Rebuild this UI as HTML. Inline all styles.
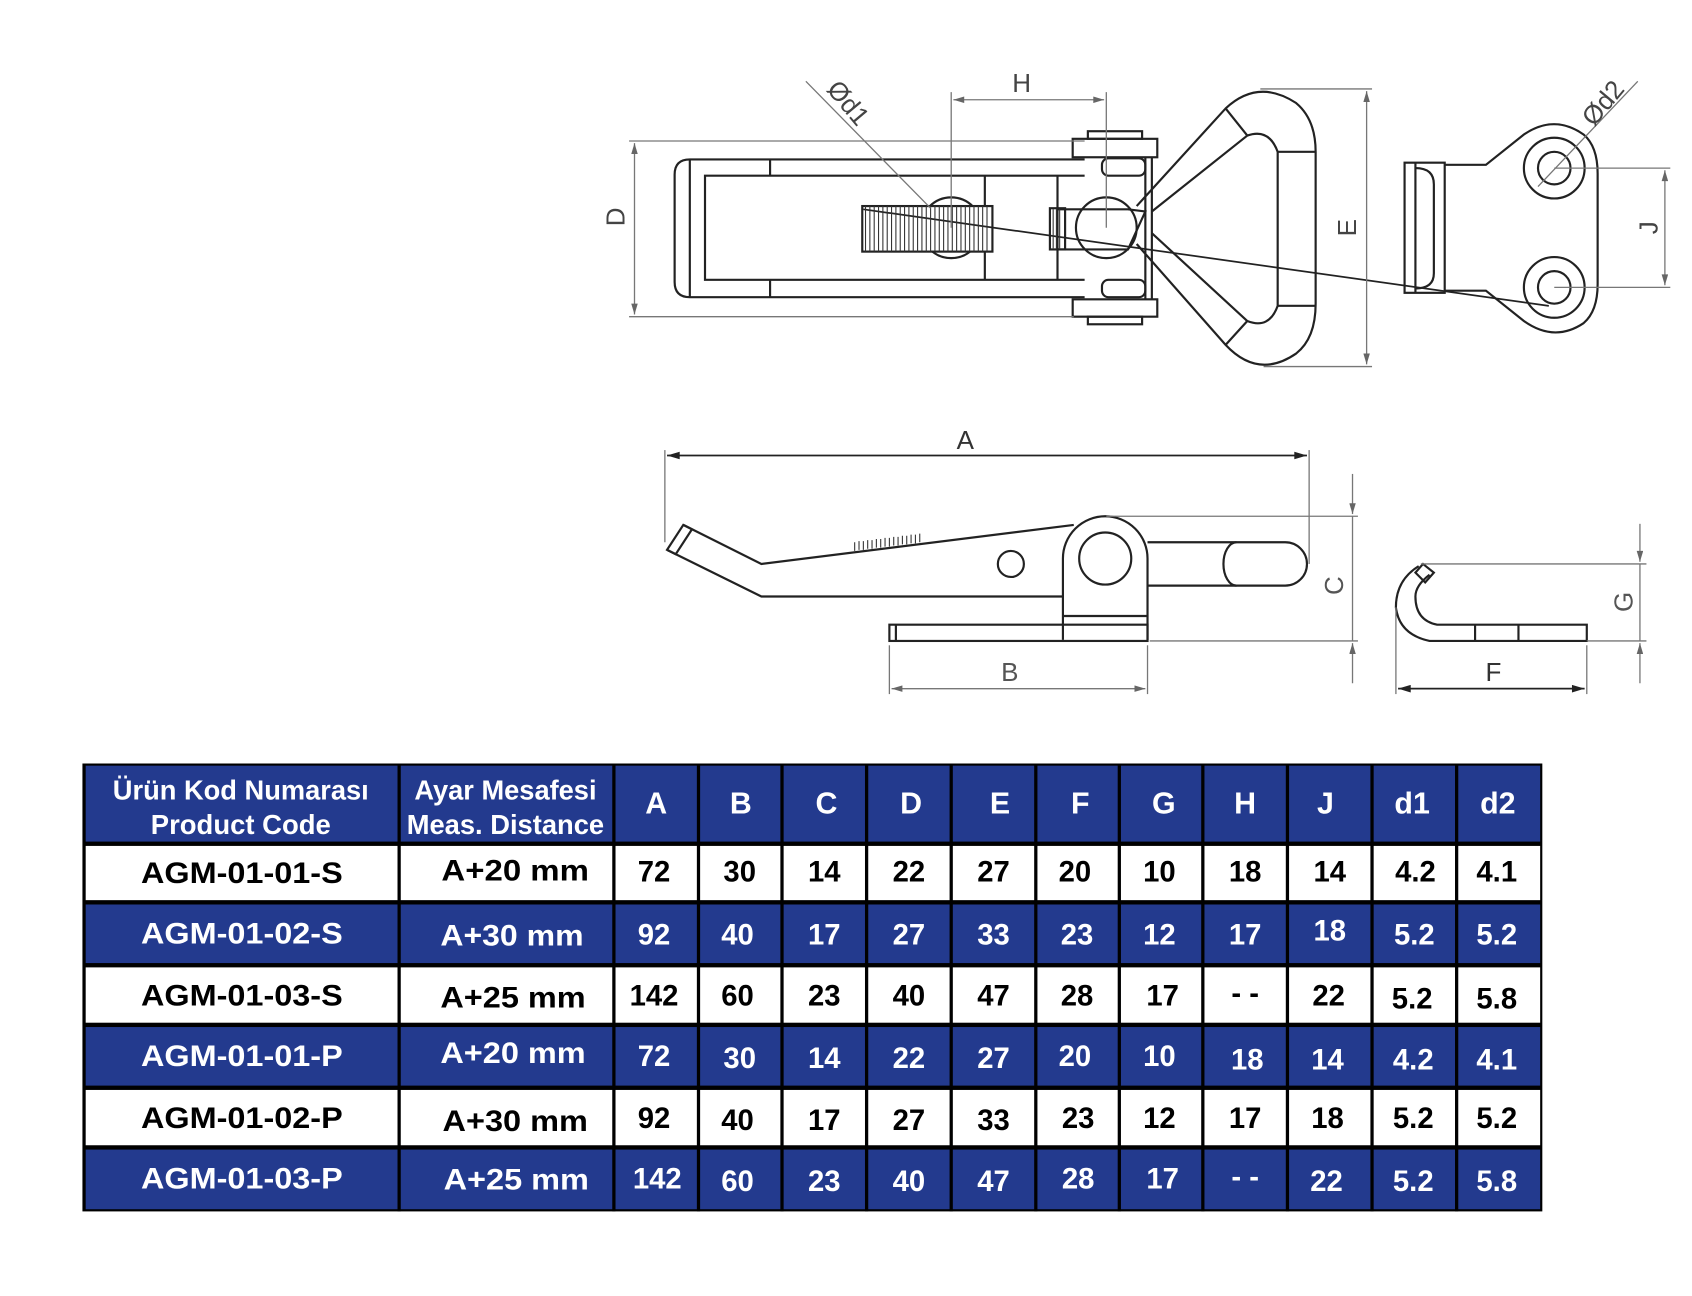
<!DOCTYPE html>
<html><head><meta charset="utf-8"><style>
html,body{margin:0;padding:0;background:#fff;width:1692px;height:1296px;overflow:hidden}
svg{display:block}
text{font-family:"Liberation Sans",sans-serif}
</style></head><body>
<svg width="1692" height="1296" viewBox="0 0 1560 1195" preserveAspectRatio="none" xmlns="http://www.w3.org/2000/svg">
<defs>
<marker id="ar" viewBox="0 0 10 6" refX="10" refY="3" markerWidth="14" markerHeight="6" markerUnits="userSpaceOnUse" orient="auto-start-reverse"><path d="M0,0 L10,3 L0,6 z" fill="#666"/></marker>
<marker id="ab" viewBox="0 0 10 6" refX="10" refY="3" markerWidth="18" markerHeight="7" markerUnits="userSpaceOnUse" orient="auto-start-reverse"><path d="M0,0 L10,3 L0,6 z" fill="#222"/></marker>
</defs>
<rect width="1560" height="1195" fill="#fff"/>

<!-- ===== TOP VIEW ===== -->
<g fill="none" stroke="#222" stroke-width="2">
  <path d="M1000,147 H636 Q622,147 622,161 V260 Q622,274 636,274 H1000"/>
  <path d="M1000,162 H650 V258 H1000"/>
  <line x1="636" y1="147" x2="636" y2="274"/>
  <line x1="710" y1="147" x2="710" y2="162"/><line x1="710" y1="258" x2="710" y2="274"/>
  <line x1="908" y1="162" x2="908" y2="258"/><line x1="975" y1="162" x2="975" y2="258"/>
  <rect x="989" y="128" width="78" height="17"/><rect x="1003" y="121" width="50" height="7"/>
  <rect x="989" y="276" width="78" height="16"/><rect x="1003" y="292" width="50" height="7"/>
  <rect x="1016" y="146" width="40" height="16" rx="6"/><rect x="1016" y="258" width="40" height="16" rx="6"/>
  <line x1="1056" y1="145" x2="1056" y2="276"/><line x1="1062" y1="145" x2="1062" y2="276"/>
  <circle cx="877" cy="210" r="28"/>
  <circle cx="1020" cy="210" r="28"/>
  <rect x="795" y="190" width="120" height="42" fill="#fff"/>
  <path d="M975,193 H1040 L1056,195 L1040,230 H975"/>
  <rect x="968" y="192" width="14" height="38"/>
  <!-- bail -->
  <path d="M1048,190 L1130,100 Q1160,72 1195,95 Q1213,110 1213,140 V280 Q1213,312 1195,326 Q1160,350 1130,318 L1048,225"/>
  <path d="M1062,195 L1150,125 Q1170,118 1178,140 V282 Q1170,304 1150,296 L1062,215"/>
  <line x1="1130" y1="100" x2="1150" y2="125"/><line x1="1130" y1="318" x2="1150" y2="296"/>
  <line x1="1178" y1="140" x2="1213" y2="140"/><line x1="1178" y1="282" x2="1213" y2="282"/>
  <!-- plate -->
  <rect x="1295" y="150" width="37" height="120"/>
  <path d="M1305,155 Q1322,155 1322,170 V252 Q1322,266 1305,266"/>
  <line x1="1305" y1="150" x2="1305" y2="270"/>
  <path d="M1332,152 H1370 L1405,124 Q1433,105 1460,124 Q1473,135 1473,160 V262 Q1473,287 1460,298 Q1433,316 1405,296 L1370,268 H1332"/>
  <circle cx="1433" cy="155" r="28"/><circle cx="1433" cy="155" r="15"/>
  <circle cx="1433" cy="265" r="28"/><circle cx="1433" cy="265" r="15"/>
  <line x1="796" y1="193" x2="1428" y2="282" stroke-width="1.6"/>
</g>
<g stroke="#333" stroke-width="1">
  <path d="M798,190 v42 M802,190 v42 M806,190 v42 M810,190 v42 M814,190 v42 M818,190 v42 M822,190 v42 M826,190 v42 M830,190 v42 M834,190 v42 M838,190 v42 M842,190 v42 M846,190 v42 M850,190 v42 M854,190 v42 M858,190 v42 M862,190 v42 M866,190 v42 M870,190 v42 M874,190 v42 M878,190 v42 M882,190 v42 M886,190 v42 M890,190 v42 M894,190 v42 M898,190 v42 M902,190 v42 M906,190 v42 M910,190 v42 M971,193 v36 M974,193 v36 M977,193 v36"/>
</g>
<!-- top dims -->
<g stroke="#777" stroke-width="1.2" fill="none">
  <line x1="580" y1="130" x2="1000" y2="130"/><line x1="580" y1="292" x2="990" y2="292"/>
  <line x1="585" y1="132" x2="585" y2="290" marker-start="url(#ar)" marker-end="url(#ar)"/>
  <line x1="877" y1="85" x2="877" y2="210"/><line x1="1020" y1="85" x2="1020" y2="210"/>
  <line x1="879" y1="92" x2="1018" y2="92" marker-start="url(#ar)" marker-end="url(#ar)"/>
  <line x1="743" y1="75" x2="858" y2="192"/>
  <line x1="1162" y1="82" x2="1265" y2="82"/><line x1="1165" y1="338" x2="1265" y2="338"/>
  <line x1="1260" y1="84" x2="1260" y2="336" marker-start="url(#ar)" marker-end="url(#ar)"/>
  <line x1="1433" y1="155" x2="1540" y2="155"/><line x1="1433" y1="265" x2="1540" y2="265"/>
  <line x1="1535" y1="157" x2="1535" y2="263" marker-start="url(#ar)" marker-end="url(#ar)"/>
  <line x1="1510" y1="75" x2="1418" y2="172"/>
</g>
<g fill="#444" font-size="24">
  <text x="942" y="85" text-anchor="middle">H</text>
  <text transform="translate(568,200) rotate(-90)" text-anchor="middle" dy="8">D</text>
  <text transform="translate(1242,210) rotate(-90)" text-anchor="middle" dy="8">E</text>
  <text transform="translate(1520,210) rotate(-90)" text-anchor="middle" dy="8">J</text>
  <text transform="translate(782,95) rotate(50)" text-anchor="middle" dy="8">Ød1</text>
  <text transform="translate(1478,95) rotate(-50)" text-anchor="middle" dy="8">Ød2</text>
</g>

<!-- ===== SIDE VIEW ===== -->
<g fill="none" stroke="#222" stroke-width="2">
  <path d="M630,484 L702,520 L990,484"/>
  <path d="M615,507 L702,550 H980"/>
  <path d="M615,507 L630,484 L638,488 L623,511 z"/>
  <path d="M980,590 V515 A39,39 0 0 1 1058,515 V590"/>
  <circle cx="1019" cy="515" r="24"/>
  <circle cx="932" cy="520" r="12"/>
  <path d="M1058,500 H1185 A20,20 0 0 1 1185,540 H1058"/>
  <path d="M1140,500 A12,20 0 0 0 1140,540"/>
  <rect x="820" y="576" width="238" height="15"/><line x1="826" y1="576" x2="826" y2="591"/>
  <line x1="980" y1="568" x2="1058" y2="568"/>
  <!-- catch -->
  <path d="M1308,522 Q1287,535 1287,560 Q1290,585 1318,591 H1463 V576 H1325 Q1305,572 1305,550 Q1305,540 1318,530"/>
  <path d="M1305,528 L1312,520 L1322,528 L1314,537 z"/>
  <line x1="1360" y1="576" x2="1360" y2="591"/><line x1="1400" y1="576" x2="1400" y2="591"/>
</g>
<g stroke="#333" stroke-width="1"><path d="M788,500 v8 M792,499 v8 M796,499 v8 M800,498 v8 M804,498 v8 M808,497 v8 M812,497 v8 M816,496 v8 M820,496 v8 M824,495 v8 M828,495 v8 M832,494 v8 M836,494 v8 M840,493 v8 M844,493 v8 M848,492 v8"/></g>
<g stroke="#777" stroke-width="1.2" fill="none">
  <line x1="613" y1="415" x2="613" y2="500"/><line x1="1207" y1="415" x2="1207" y2="520"/>
  <line x1="820" y1="595" x2="820" y2="640"/><line x1="1058" y1="595" x2="1058" y2="640"/>
  <line x1="822" y1="635" x2="1056" y2="635" marker-start="url(#ar)" marker-end="url(#ar)"/>
  <line x1="1020" y1="476" x2="1252" y2="476"/><line x1="1060" y1="591" x2="1252" y2="591"/>
  <line x1="1247" y1="437" x2="1247" y2="474" marker-end="url(#ar)"/>
  <line x1="1247" y1="476" x2="1247" y2="591"/>
  <line x1="1247" y1="630" x2="1247" y2="593" marker-end="url(#ar)"/>
  <line x1="1287" y1="560" x2="1287" y2="640"/><line x1="1463" y1="595" x2="1463" y2="640"/>
  <line x1="1310" y1="520" x2="1518" y2="520"/><line x1="1463" y1="591" x2="1518" y2="591"/>
  <line x1="1512" y1="483" x2="1512" y2="518" marker-end="url(#ar)"/>
  <line x1="1512" y1="520" x2="1512" y2="591"/>
  <line x1="1512" y1="630" x2="1512" y2="593" marker-end="url(#ar)"/>
</g>
<g stroke="#222" stroke-width="1.6">
  <line x1="615" y1="420" x2="1205" y2="420" marker-start="url(#ab)" marker-end="url(#ab)"/>
  <line x1="1289" y1="635" x2="1461" y2="635" marker-start="url(#ab)" marker-end="url(#ab)"/>
</g>
<g fill="#333" font-size="24">
  <text x="890" y="414" text-anchor="middle">A</text>
  <text x="931" y="628" text-anchor="middle" fill="#555">B</text>
  <text x="1377" y="628" text-anchor="middle">F</text>
  <text transform="translate(1230,540) rotate(-90)" text-anchor="middle" dy="8" fill="#555">C</text>
  <text transform="translate(1497,555) rotate(-90)" text-anchor="middle" dy="8" fill="#555">G</text>
</g>

<!-- ===== TABLE ===== -->
<g>
  <rect x="76" y="704" width="1346" height="413" fill="#000"/>
  <rect x="79" y="706" width="1341" height="70" fill="#233a8e"/>
  <rect x="79" y="780" width="1341" height="50" fill="#fff"/>
  <rect x="79" y="834" width="1341" height="54" fill="#233a8e"/>
  <rect x="79" y="892" width="1341" height="51" fill="#fff"/>
  <rect x="79" y="947" width="1341" height="54" fill="#233a8e"/>
  <rect x="79" y="1005" width="1341" height="51" fill="#fff"/>
  <rect x="79" y="1060" width="1341" height="55" fill="#233a8e"/>
  <g stroke="#000" stroke-width="3">
    <path d="M368,704V1117 M566,704V1117 M644,704V1117 M721,704V1117 M799,704V1117 M877,704V1117 M955,704V1117 M1032,704V1117 M1109,704V1117 M1187,704V1117 M1265,704V1117 M1343,704V1117"/>
  </g>
</g>
<g font-weight="bold" font-size="26" text-anchor="middle" fill="#fff">
  <text x="222" y="737" textLength="236" lengthAdjust="spacingAndGlyphs">Ürün Kod Numarası</text>
  <text x="222" y="769" textLength="166" lengthAdjust="spacingAndGlyphs">Product Code</text>
  <text x="466" y="737" textLength="168" lengthAdjust="spacingAndGlyphs">Ayar Mesafesi</text>
  <text x="466" y="769" textLength="182" lengthAdjust="spacingAndGlyphs">Meas. Distance</text>
  <g font-size="28">
  <text x="605" y="750">A</text><text x="683" y="750">B</text><text x="762" y="750">C</text><text x="840" y="750">D</text><text x="922" y="750">E</text><text x="996" y="750">F</text><text x="1073" y="750">G</text><text x="1148" y="750">H</text><text x="1222" y="750">J</text><text x="1302" y="750">d1</text><text x="1381" y="750">d2</text>
  </g>
</g>
<g font-weight="bold" font-size="27" text-anchor="middle">
  <g fill="#000">
    <text x="223" y="814" textLength="186" lengthAdjust="spacingAndGlyphs">AGM-01-01-S</text>
    <text x="475" y="812" textLength="136" lengthAdjust="spacingAndGlyphs">A+20 mm</text>
    <text x="603" y="813">72</text><text x="682" y="813">30</text><text x="760" y="813">14</text><text x="838" y="813">22</text><text x="916" y="813">27</text><text x="991" y="813">20</text><text x="1069" y="813">10</text><text x="1148" y="813">18</text><text x="1226" y="813">14</text><text x="1305" y="813">4.2</text><text x="1380" y="813">4.1</text>
  </g>
  <g fill="#fff">
    <text x="223" y="870" textLength="186" lengthAdjust="spacingAndGlyphs">AGM-01-02-S</text>
    <text x="472" y="872" textLength="132" lengthAdjust="spacingAndGlyphs">A+30 mm</text>
    <text x="603" y="871">92</text><text x="680" y="871">40</text><text x="760" y="871">17</text><text x="838" y="871">27</text><text x="916" y="871">33</text><text x="993" y="871">23</text><text x="1069" y="871">12</text><text x="1148" y="871">17</text><text x="1226" y="867">18</text><text x="1304" y="871">5.2</text><text x="1380" y="871">5.2</text>
  </g>
  <g fill="#000">
    <text x="223" y="927" textLength="186" lengthAdjust="spacingAndGlyphs">AGM-01-03-S</text>
    <text x="473" y="929" textLength="134" lengthAdjust="spacingAndGlyphs">A+25 mm</text>
    <text x="603" y="927">142</text><text x="680" y="927">60</text><text x="760" y="927">23</text><text x="838" y="927">40</text><text x="916" y="927">47</text><text x="993" y="927">28</text><text x="1072" y="927">17</text><text x="1148" y="925">- -</text><text x="1225" y="927">22</text><text x="1302" y="930">5.2</text><text x="1380" y="930">5.8</text>
  </g>
  <g fill="#fff">
    <text x="223" y="983" textLength="186" lengthAdjust="spacingAndGlyphs">AGM-01-01-P</text>
    <text x="473" y="980" textLength="134" lengthAdjust="spacingAndGlyphs">A+20 mm</text>
    <text x="603" y="983">72</text><text x="682" y="985">30</text><text x="760" y="985">14</text><text x="838" y="985">22</text><text x="916" y="985">27</text><text x="991" y="983">20</text><text x="1069" y="983">10</text><text x="1150" y="986">18</text><text x="1224" y="986">14</text><text x="1303" y="986">4.2</text><text x="1380" y="986">4.1</text>
  </g>
  <g fill="#000">
    <text x="223" y="1040" textLength="186" lengthAdjust="spacingAndGlyphs">AGM-01-02-P</text>
    <text x="475" y="1043" textLength="134" lengthAdjust="spacingAndGlyphs">A+30 mm</text>
    <text x="603" y="1040">92</text><text x="680" y="1042">40</text><text x="760" y="1042">17</text><text x="838" y="1042">27</text><text x="916" y="1042">33</text><text x="994" y="1040">23</text><text x="1069" y="1040">12</text><text x="1148" y="1040">17</text><text x="1224" y="1040">18</text><text x="1303" y="1040">5.2</text><text x="1380" y="1040">5.2</text>
  </g>
  <g fill="#fff">
    <text x="223" y="1096" textLength="186" lengthAdjust="spacingAndGlyphs">AGM-01-03-P</text>
    <text x="476" y="1097" textLength="134" lengthAdjust="spacingAndGlyphs">A+25 mm</text>
    <text x="606" y="1096">142</text><text x="680" y="1098">60</text><text x="760" y="1098">23</text><text x="838" y="1098">40</text><text x="916" y="1098">47</text><text x="994" y="1096">28</text><text x="1072" y="1096">17</text><text x="1148" y="1094">- -</text><text x="1223" y="1098">22</text><text x="1303" y="1098">5.2</text><text x="1380" y="1098">5.8</text>
  </g>
</g>
</svg>
</body></html>
